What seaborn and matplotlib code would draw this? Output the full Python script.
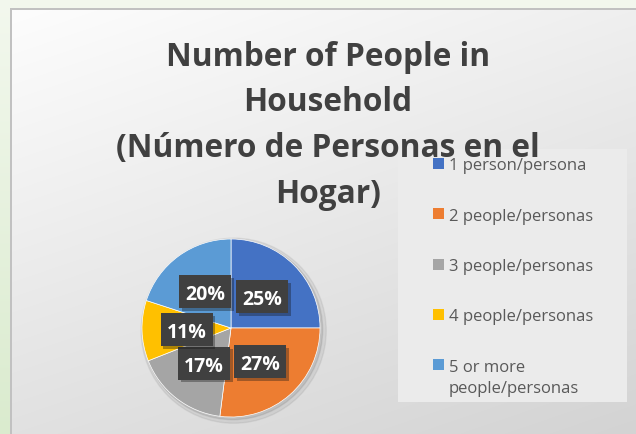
import numpy as np
import matplotlib.pyplot as plt
import matplotlib.patheffects as pe
from matplotlib.patches import Rectangle, Circle
import seaborn as sns

sns.set_theme(style="white")
plt.rcParams["font.family"] = ["Open Sans", "DejaVu Sans"]

# data
categories = ["1 person/persona", "2 people/personas", "3 people/personas",
              "4 people/personas", "5 or more\npeople/personas"]
shares = [25, 27, 17, 11, 20]
slice_colors = ["#4472C4", "#ED7D31", "#A5A5A5", "#FFC000", "#5B9BD5"]
title_lines = ["Number of People in", "Household",
               "(Número de Personas en el", "Hogar)"]

palette = sns.color_palette(slice_colors)

W, H = 636, 435
fig = plt.figure(figsize=(W / 100, H / 100), dpi=100)

# background: green slide margin + grey gradient chart area
yy, xx = np.mgrid[0:H, 0:W]
gx = (xx - 10) / (W - 10)
gy = (yy - 10) / (H - 10)
grey = 253 - 14 * gx - 28 * gy
img = np.stack([grey] * 3, axis=-1) / 255
green_top = np.array([243, 248, 238]) / 255
green_bot = np.array([218, 235, 206]) / 255
t = (yy / H)[..., None]
green = green_top * (1 - t) + green_bot * t
mask = (xx < 10) | (yy < 9)
img[mask] = green[mask]
border = (((xx == 10) | (xx == 11)) & (yy >= 9)) | (((yy == 9) | (yy == 10)) & (xx >= 10))
img[border] = 0.76
bg = fig.add_axes([0, 0, 1, 1])
bg.imshow(img, aspect="auto", interpolation="nearest")
bg.axis("off")

# pie
cx, cy, r = 231, 329, 89
ax = fig.add_axes([(cx - r) / W, (H - cy - r) / H, 2 * r / W, 2 * r / H])
ax.add_patch(Circle((0.03, -0.03), 1.04, color="black", alpha=0.06, zorder=0, clip_on=False))
ax.add_patch(Circle((0.02, -0.02), 1.01, color="black", alpha=0.08, zorder=0, clip_on=False))
wedges, texts, autotexts = ax.pie(
    shares, colors=palette, startangle=90, counterclock=False,
    autopct="%1.0f%%", pctdistance=0.5,
    wedgeprops=dict(edgecolor="white", linewidth=0.5),
    textprops=dict(color="white", fontsize=14, fontweight="bold"))
ax.set_xlim(-1, 1)
ax.set_ylim(-1, 1)

# dark label boxes (52 x 33 px) behind the percentages
bw, bh = 52 / r, 33 / r
for txt in autotexts:
    x, y = txt.get_position()
    box = Rectangle((x - bw / 2, y - bh / 2), bw, bh, facecolor="#404040",
                    edgecolor="none", zorder=4, clip_on=False)
    box.set_path_effects([pe.SimplePatchShadow(offset=(2, -2), alpha=0.35), pe.Normal()])
    ax.add_patch(box)
    txt.set_zorder(5)
    txt.set_va("center_baseline")

# legend box and entries
fig.patches.append(Rectangle((398 / W, 1 - 403 / H), 229 / W, 253 / H,
                             transform=fig.transFigure, facecolor="#ebebeb",
                             edgecolor="none", zorder=1))
for i, (lab, col) in enumerate(zip(categories, palette)):
    top = 159 + 50.3 * i
    fig.patches.append(Rectangle((433 / W, 1 - (top + 11) / H), 11 / W, 11 / H,
                                 transform=fig.transFigure, facecolor=col,
                                 edgecolor="none", zorder=2))
    for j, part in enumerate(lab.split("\n")):
        fig.text(449 / W, 1 - (top + 11.5 + 21.6 * j) / H, part, ha="left",
                 va="baseline", fontsize=12, color="#595959", zorder=3)

# title
for i, line in enumerate(title_lines):
    fig.text(328 / W, 1 - (65.5 + 45.8 * i) / H, line, ha="center", va="baseline",
             fontsize=22.8, fontweight="bold", color="#404040", zorder=4)

fig.savefig("out.png", dpi=100)
